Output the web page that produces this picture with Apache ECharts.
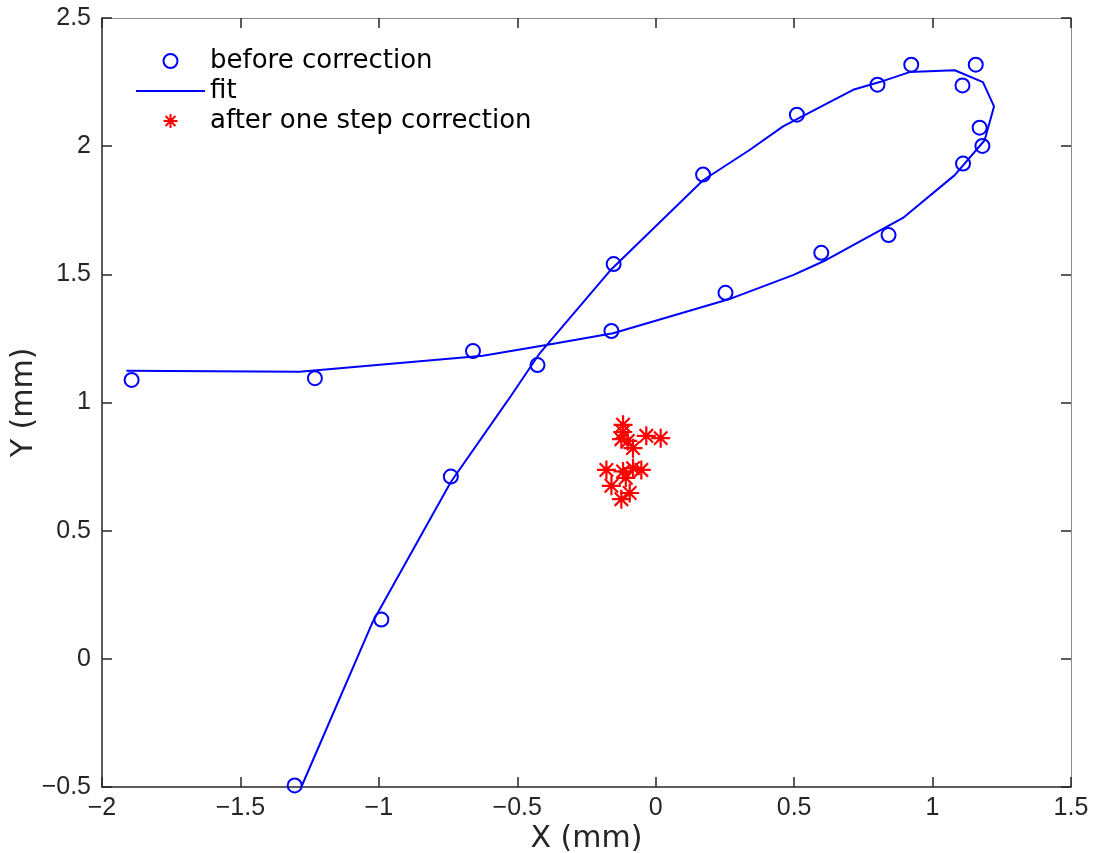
<!DOCTYPE html>
<html>
<head>
<meta charset="utf-8">
<script src="https://cdn.jsdelivr.net/npm/echarts@6/dist/echarts.min.js"></script>
<style>html,body{margin:0;padding:0;background:#fff}#c{width:1095px;height:853px}</style>
</head>
<body>
<div id="c"></div>
<script>
// X/Y tick settings
const xTicks = {min: -2, max: 1.5, step: 0.5};
const yTicks = {min: -0.5, max: 2.5, step: 0.5};

// measured points before correction [x, y] (mm)
const beforeCorrection = [
  [-1.893, 1.088], [-1.231, 1.095], [-0.660, 1.201], [-0.427, 1.146],
  [-0.160, 1.279], [-0.152, 1.540], [0.171, 1.889], [0.252, 1.428],
  [0.510, 2.123], [0.801, 2.240], [0.923, 2.318], [1.156, 2.318],
  [1.108, 2.237], [1.170, 2.072], [1.180, 2.001], [1.110, 1.932],
  [0.841, 1.653], [0.598, 1.584], [-0.991, 0.153], [-1.304, -0.494],
  [-0.740, 0.711]
];

// fitted curve vertices [x, y] (mm)
const fitCurve = [
  [-1.280, -0.500], [-1.021, 0.147], [-0.740, 0.690], [-0.533, 1.010],
  [-0.419, 1.192], [-0.160, 1.520], [0.171, 1.867], [0.339, 1.985],
  [0.460, 2.077], [0.713, 2.220], [0.809, 2.250], [0.917, 2.289],
  [1.080, 2.296], [1.182, 2.250], [1.222, 2.155], [1.188, 2.023],
  [1.080, 1.887], [0.893, 1.720], [0.616, 1.556], [0.496, 1.497],
  [0.273, 1.406], [-0.154, 1.270], [-0.395, 1.224], [-0.624, 1.182],
  [-1.286, 1.120], [-1.912, 1.124]
];

// points after one step correction [x, y] (mm)
const afterCorrection = [
  [-0.118, 0.913], [-0.119, 0.885], [-0.124, 0.857], [-0.101, 0.850],
  [-0.082, 0.822], [-0.034, 0.870], [0.018, 0.861], [-0.178, 0.737],
  [-0.118, 0.731], [-0.082, 0.744], [-0.052, 0.737], [-0.108, 0.706],
  [-0.160, 0.675], [-0.094, 0.647], [-0.124, 0.623]
];

const seriesNames = ['before correction', 'fit', 'after one step correction'];
const axisNames = {x: 'X (mm)', y: 'Y (mm)'};

const starPath = 'path://M0,-10L0,10M-10,0L10,0M-7.07,-7.07L7.07,7.07M-7.07,7.07L7.07,-7.07';
const linePath = 'path://M0,0H69V2H0Z';
const fmt = v => String(v).replace('-', '\u2212');
const tickFont = {fontFamily: 'Liberation Sans, Arial, sans-serif', fontSize: 25, color: '#262626'};
const nameFont = {fontFamily: 'DejaVu Sans, sans-serif', fontSize: 30, color: '#262626'};

const chart = echarts.init(document.getElementById('c'), null, {renderer: 'canvas'});
chart.setOption({
  animation: false,
  backgroundColor: '#fff',
  grid: {left: 102, right: 24, top: 18, bottom: 66, containLabel: false, outerBoundsMode: 'none'},
  legend: {
    orient: 'vertical', left: 136, top: 46, padding: 0, itemGap: 0,
    itemWidth: 69, itemHeight: 14,
    textStyle: {fontFamily: 'DejaVu Sans, sans-serif', fontSize: 26, color: '#000', lineHeight: 30},
    data: [
      {name: seriesNames[0], icon: 'circle', itemStyle: {color: 'rgba(0,0,0,0)', borderColor: '#0000ff', borderWidth: 2, opacity: 1}},
      {name: seriesNames[1], icon: linePath, itemStyle: {color: '#0000ff', borderWidth: 0, opacity: 1}},
      {name: seriesNames[2], icon: starPath, itemStyle: {color: 'rgba(0,0,0,0)', borderColor: '#ff0000', borderWidth: 2, opacity: 1}}
    ]
  },
  xAxis: [{
    type: 'value', min: xTicks.min, max: xTicks.max, interval: xTicks.step, position: 'bottom',
    name: axisNames.x, nameLocation: 'middle', nameGap: 37, nameMoveOverlap: false, nameTextStyle: nameFont,
    axisLine: {onZero: false, lineStyle: {color: '#262626', width: 1.5}},
    axisTick: {inside: true, length: 10, lineStyle: {color: '#262626', width: 1.5}},
    axisLabel: Object.assign({margin: 9, formatter: fmt}, tickFont),
    splitLine: {show: false}
  }, {
    type: 'value', min: xTicks.min, max: xTicks.max, interval: xTicks.step, position: 'top',
    axisLine: {onZero: false, lineStyle: {color: '#8a8a8a', width: 1}},
    axisTick: {inside: true, length: 10, lineStyle: {color: '#262626', width: 1.5}},
    axisLabel: {show: false}, splitLine: {show: false}
  }],
  yAxis: [{
    type: 'value', min: yTicks.min, max: yTicks.max, interval: yTicks.step, position: 'left',
    name: axisNames.y, nameLocation: 'middle', nameGap: 63, nameMoveOverlap: false, nameTextStyle: nameFont,
    axisLine: {onZero: false, lineStyle: {color: '#262626', width: 1.5}},
    axisTick: {inside: true, length: 10, lineStyle: {color: '#262626', width: 1.5}},
    axisLabel: Object.assign({margin: 11, formatter: fmt}, tickFont),
    splitLine: {show: false}
  }, {
    type: 'value', min: yTicks.min, max: yTicks.max, interval: yTicks.step, position: 'right',
    axisLine: {onZero: false, lineStyle: {color: '#8a8a8a', width: 1}},
    axisTick: {inside: true, length: 10, lineStyle: {color: '#262626', width: 1.5}},
    axisLabel: {show: false}, splitLine: {show: false}
  }],
  series: [{
    name: seriesNames[1], type: 'line', data: fitCurve, symbol: 'none', showSymbol: false,
    lineStyle: {color: '#0000ff', width: 2}, itemStyle: {color: '#0000ff'}, z: 2
  }, {
    name: seriesNames[0], type: 'scatter', data: beforeCorrection, symbol: 'circle', symbolSize: 14,
    itemStyle: {color: 'rgba(0,0,0,0)', borderColor: '#0000ff', borderWidth: 2, opacity: 1}, z: 3
  }, {
    name: seriesNames[2], type: 'scatter', data: afterCorrection, symbol: starPath, symbolSize: 19,
    itemStyle: {color: 'rgba(0,0,0,0)', borderColor: '#ff0000', borderWidth: 2.2, opacity: 1}, z: 4
  }]
});
</script>
</body>
</html>
